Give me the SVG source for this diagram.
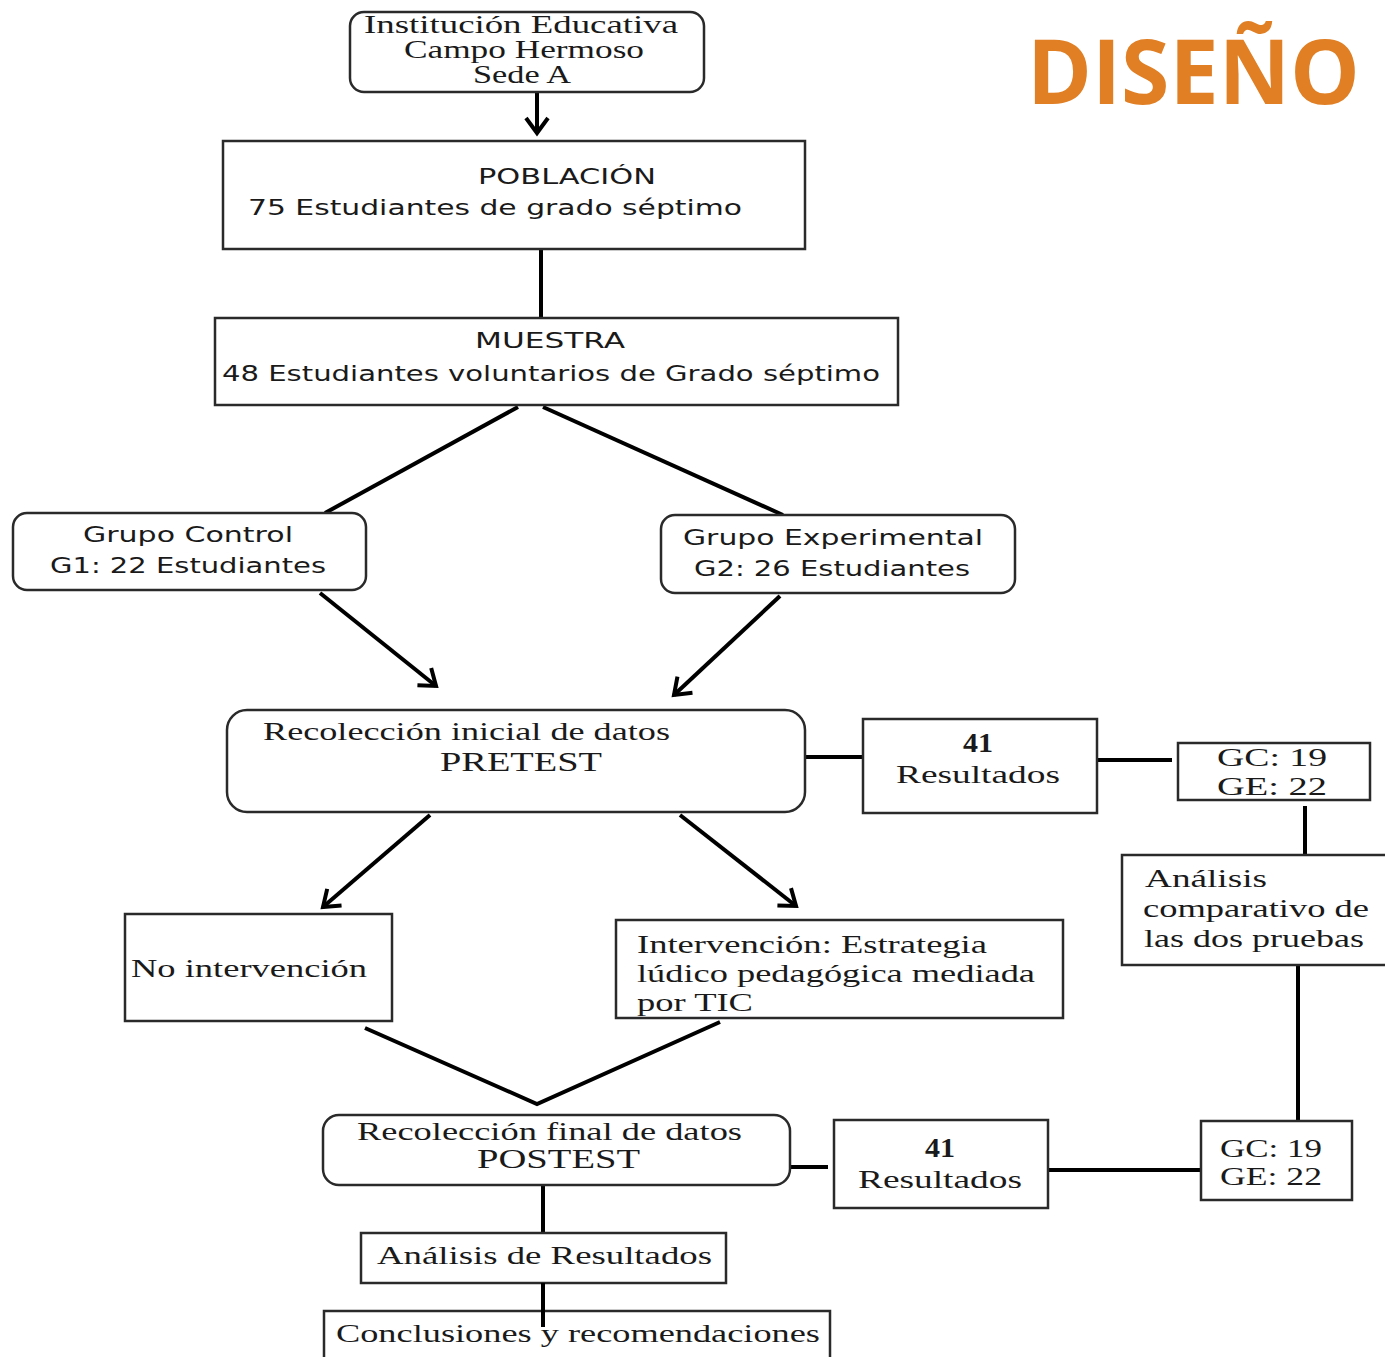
<svg xmlns="http://www.w3.org/2000/svg" width="1385" height="1357" viewBox="0 0 1385 1357">
<style>
.box{fill:#fff;stroke:#2a2a2a;stroke-width:2.5}
.con{stroke:#000;stroke-width:4;fill:none}
.serif{font-family:"Liberation Serif","Times New Roman",serif;fill:#1a1a1a}
.sans{font-family:"DejaVu Sans","Open Sans",sans-serif;fill:#1a1a1a}
</style>
<defs>
<marker id="ah" viewBox="0 0 20 20" refX="18" refY="10" markerWidth="20" markerHeight="20" markerUnits="userSpaceOnUse" orient="auto" overflow="visible">
<polyline points="3,-1 18,10 3,21" fill="none" stroke="#000" stroke-width="4"/>
</marker>
</defs>
<rect width="1385" height="1357" fill="#fff"/>
<text x="1027" y="104" font-family="'Open Sans','Noto Sans',sans-serif" font-weight="bold" font-size="90" fill="#E07F24" textLength="333" lengthAdjust="spacingAndGlyphs">DISEÑO</text>

<g id="connectors">
<line class="con" x1="537" y1="92" x2="537" y2="133" marker-end="url(#ah)"/>
<line class="con" x1="541" y1="249" x2="541" y2="318"/>
<line class="con" x1="518" y1="407" x2="325" y2="513"/>
<line class="con" x1="543" y1="407" x2="783" y2="515"/>
<line class="con" x1="320" y1="593" x2="436" y2="686" marker-end="url(#ah)"/>
<line class="con" x1="780" y1="596" x2="674" y2="695" marker-end="url(#ah)"/>
<line class="con" x1="805" y1="757" x2="863" y2="757"/>
<line class="con" x1="1097" y1="760" x2="1172" y2="760"/>
<line class="con" x1="1305" y1="806" x2="1305" y2="855"/>
<line class="con" x1="1298" y1="965" x2="1298" y2="1121"/>
<line class="con" x1="430" y1="815" x2="323" y2="907" marker-end="url(#ah)"/>
<line class="con" x1="680" y1="815" x2="796" y2="906" marker-end="url(#ah)"/>
<polyline class="con" points="365,1028 537,1104 720,1022"/>
<line class="con" x1="783" y1="1167" x2="828" y2="1167"/>
<line class="con" x1="1048" y1="1170" x2="1201" y2="1170"/>
<line class="con" x1="543" y1="1185" x2="543" y2="1233"/>
</g>

<g id="n-institucion">
<rect class="box" x="350" y="12" width="354" height="80" rx="14"/>
<text class="serif" font-size="25" x="521" y="33" text-anchor="middle" textLength="314" lengthAdjust="spacingAndGlyphs">Institución Educativa</text>
<text class="serif" font-size="25" x="524" y="58" text-anchor="middle" textLength="240" lengthAdjust="spacingAndGlyphs">Campo Hermoso</text>
<text class="serif" font-size="25" x="522" y="83" text-anchor="middle" textLength="98" lengthAdjust="spacingAndGlyphs">Sede A</text>
</g>

<g id="n-poblacion">
<rect class="box" x="223" y="141" width="582" height="108"/>
<text class="sans" font-size="21" x="567" y="184" text-anchor="middle" textLength="178" lengthAdjust="spacingAndGlyphs">POBLACIÓN</text>
<text class="sans" font-size="22" x="248" y="215" textLength="494" lengthAdjust="spacingAndGlyphs">75 Estudiantes  de grado séptimo</text>
</g>

<g id="n-muestra">
<rect class="box" x="215" y="318" width="683" height="87"/>
<text class="sans" font-size="21" x="550" y="348" text-anchor="middle" textLength="150" lengthAdjust="spacingAndGlyphs">MUESTRA</text>
<text class="sans" font-size="22" x="222" y="381" textLength="658" lengthAdjust="spacingAndGlyphs">48 Estudiantes voluntarios de Grado séptimo</text>
</g>

<g id="n-control">
<rect class="box" x="13" y="513" width="353" height="77" rx="14"/>
<text class="sans" font-size="21" x="188" y="542" text-anchor="middle" textLength="210" lengthAdjust="spacingAndGlyphs">Grupo Control</text>
<text class="sans" font-size="21" x="188" y="573" text-anchor="middle" textLength="276" lengthAdjust="spacingAndGlyphs">G1: 22 Estudiantes</text>
</g>

<g id="n-experimental">
<rect class="box" x="661" y="515" width="354" height="78" rx="14"/>
<text class="sans" font-size="21" x="833" y="545" text-anchor="middle" textLength="300" lengthAdjust="spacingAndGlyphs">Grupo Experimental</text>
<text class="sans" font-size="21" x="832" y="576" text-anchor="middle" textLength="276" lengthAdjust="spacingAndGlyphs">G2: 26 Estudiantes</text>
</g>

<g id="n-pretest">
<rect class="box" x="227" y="710" width="578" height="102" rx="20"/>
<text class="serif" font-size="25" x="263" y="740" textLength="407" lengthAdjust="spacingAndGlyphs">Recolección inicial de datos</text>
<text class="serif" font-size="27" x="440" y="771" textLength="162" lengthAdjust="spacingAndGlyphs">PRETEST</text>
</g>

<g id="n-resultados1">
<rect class="box" x="863" y="719" width="234" height="94"/>
<text class="serif" font-size="27" font-weight="bold" x="978" y="752" text-anchor="middle" textLength="30" lengthAdjust="spacingAndGlyphs">41</text>
<text class="serif" font-size="25" x="978" y="783" text-anchor="middle" textLength="164" lengthAdjust="spacingAndGlyphs">Resultados</text>
</g>

<g id="n-gcge1">
<rect class="box" x="1178" y="743" width="192" height="57"/>
<text class="serif" font-size="25" x="1272" y="766" text-anchor="middle" textLength="110" lengthAdjust="spacingAndGlyphs">GC: 19</text>
<text class="serif" font-size="25" x="1272" y="795" text-anchor="middle" textLength="110" lengthAdjust="spacingAndGlyphs">GE: 22</text>
</g>

<g id="n-comparativo">
<rect class="box" x="1122" y="855" width="270" height="110"/>
<text class="serif" font-size="25" x="1145" y="887" textLength="122" lengthAdjust="spacingAndGlyphs">Análisis</text>
<text class="serif" font-size="25" x="1143" y="917" textLength="226" lengthAdjust="spacingAndGlyphs">comparativo de</text>
<text class="serif" font-size="25" x="1144" y="947" textLength="220" lengthAdjust="spacingAndGlyphs">las dos pruebas</text>
</g>

<g id="n-nointervencion">
<rect class="box" x="125" y="914" width="267" height="107"/>
<text class="serif" font-size="25" x="131" y="977" textLength="236" lengthAdjust="spacingAndGlyphs">No intervención</text>
</g>

<g id="n-intervencion">
<rect class="box" x="616" y="920" width="447" height="98"/>
<text class="serif" font-size="25" x="637" y="953" textLength="350" lengthAdjust="spacingAndGlyphs">Intervención: Estrategia</text>
<text class="serif" font-size="25" x="637" y="982" textLength="398" lengthAdjust="spacingAndGlyphs">lúdico pedagógica mediada</text>
<text class="serif" font-size="25" x="637" y="1011" textLength="116" lengthAdjust="spacingAndGlyphs">por TIC</text>
</g>

<g id="n-postest">
<rect class="box" x="323" y="1115" width="467" height="70" rx="16"/>
<text class="serif" font-size="25" x="357" y="1140" textLength="385" lengthAdjust="spacingAndGlyphs">Recolección final de datos</text>
<text class="serif" font-size="27" x="477" y="1168" textLength="163" lengthAdjust="spacingAndGlyphs">POSTEST</text>
</g>

<g id="n-resultados2">
<rect class="box" x="834" y="1120" width="214" height="88"/>
<text class="serif" font-size="27" font-weight="bold" x="940" y="1157" text-anchor="middle" textLength="30" lengthAdjust="spacingAndGlyphs">41</text>
<text class="serif" font-size="25" x="940" y="1188" text-anchor="middle" textLength="164" lengthAdjust="spacingAndGlyphs">Resultados</text>
</g>

<g id="n-gcge2">
<rect class="box" x="1201" y="1121" width="151" height="79"/>
<text class="serif" font-size="25" x="1271" y="1157" text-anchor="middle" textLength="102" lengthAdjust="spacingAndGlyphs">GC: 19</text>
<text class="serif" font-size="25" x="1271" y="1185" text-anchor="middle" textLength="102" lengthAdjust="spacingAndGlyphs">GE: 22</text>
</g>

<g id="n-analisis">
<rect class="box" x="361" y="1233" width="365" height="50"/>
<text class="serif" font-size="25" x="377" y="1264" textLength="335" lengthAdjust="spacingAndGlyphs">Análisis de Resultados</text>
</g>

<g id="n-conclusiones">
<rect class="box" x="324" y="1311" width="506" height="60"/>
<text class="serif" font-size="25" x="336" y="1342" textLength="484" lengthAdjust="spacingAndGlyphs">Conclusiones y recomendaciones</text>
</g>
<line class="con" x1="543" y1="1283" x2="543" y2="1327"/>
</svg>
